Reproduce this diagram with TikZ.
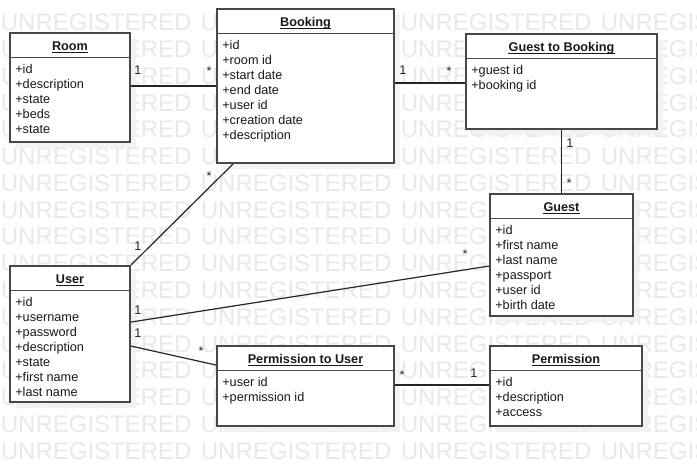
\documentclass[tikz,border=0pt]{standalone}
\usepackage{fontspec}
\setmainfont{Liberation Sans}
\usetikzlibrary{calc,fit}
\definecolor{wmgray}{RGB}{233,233,233}
\definecolor{shadowc}{RGB}{241,241,241}
\definecolor{boxline}{RGB}{72,72,72}
\tikzset{
  classbox/.style={draw=boxline, line width=1.4pt, fill=white, inner sep=0pt, rectangle},
  sepline/.style={draw=boxline, line width=1.4pt},
  titletext/.style={font=\fontsize{9.5}{11}\selectfont\bfseries, inner sep=0pt, text=black!90},
  attrtext/.style={font=\fontsize{9.5}{11}\selectfont, inner sep=0pt, text=black!90},
  assoc/.style={draw=black!85, line width=0.9pt},
  mult/.style={font=\fontsize{9.5}{11}\selectfont, inner sep=0pt, text=black!85},
  wmtext/.style={font=\fontsize{18}{20}\selectfont, text=wmgray, inner sep=0pt, anchor=base west},
}
\newcommand{\umlclass}[7]{%
  \fill[shadowc, opacity=0.85] (#2+6,#3+6) rectangle (#4+6,#5+6);
  \node[classbox, fit={(#2,#3) (#4,#5)}] (#1) {};
  \draw[sepline] ($(#1.north west)+(0,25.5)$) -- ($(#1.north east)+(0,25.5)$);
  \node[titletext, anchor=base] (#1-title) at ($(#1.north)+(0,18.5)$) {#6};
  \draw[line width=0.75pt, black!90] ($(#1-title.base west)+(0,1.6)$) -- ($(#1-title.base east)+(0,1.6)$);
  \foreach \a [count=\i] in {#7} {%
    \node[attrtext, anchor=base west] (#1-a\i) at ($(#1.north west)+(6,{41.5+(\i-1)*15})$) {+\a};
  }%
}
\begin{document}
\begin{tikzpicture}[x=0.75pt,y=-0.75pt]
\useasboundingbox (0,0) rectangle (697,466);
\fill[white] (0,0) rectangle (697,466);
\begin{scope}
\clip (0,0) rectangle (697,466);
\foreach \r in {0,...,16} {
  \foreach \c in {0,...,3} {
    \node[wmtext] (wm-\r-\c) at ({0.6+200*\c},{30.8+26.77*\r}) {UNREGISTERED};
  }
}
\end{scope}

\umlclass{room}{10}{33}{130}{142}{Room}{id,description,state,beds,state}
\umlclass{booking}{217}{9}{394}{163}{Booking}{id,room id,start date,end date,user id,creation date,description}
\umlclass{gtb}{466}{34}{657}{129}{Guest to Booking}{guest id,booking id}
\umlclass{guest}{490}{194}{633}{316}{Guest}{id,first name,last name,passport,user id,birth date}
\umlclass{user}{10}{266}{130}{402}{User}{id,username,password,description,state,first name,last name}
\umlclass{ptu}{217}{346}{394}{426}{Permission to User}{user id,permission id}
\umlclass{perm}{490}{346}{642}{426}{Permission}{id,description,access}

% associations
\draw[assoc] (room.east |- booking.west) -- (booking.west);
\draw[assoc] ($(booking.north east)+(0,75)$) -- ($(gtb.north west)+(0,50)$);
\draw[assoc] (gtb.south) -- (guest.north);
\draw[assoc] (user.north east) -- ($(booking.south west)+(17,0)$);
\draw[assoc] ($(user.north east)+(0,57)$) -- ($(guest.north west)+(0,73)$);
\draw[assoc] ($(user.north east)+(0,81)$) -- ($(ptu.north west)+(0,20)$);
\draw[assoc] ($(ptu.north east)+(0,40)$) -- ($(perm.north west)+(0,40)$);

% multiplicities
\node[mult] (m1) at (138,70) {1};
\node[mult] (m2) at (209,71) {*};
\node[mult] (m3) at (403,70) {1};
\node[mult] (m4) at (449,71) {*};
\node[mult] (m5) at (570,143) {1};
\node[mult] (m6) at (569,183) {*};
\node[mult] (m7) at (209,176) {*};
\node[mult] (m8) at (138,246) {1};
\node[mult] (m9) at (138,310) {1};
\node[mult] (m10) at (465,254) {*};
\node[mult] (m11) at (138,333) {1};
\node[mult] (m12) at (201,351) {*};
\node[mult] (m13) at (402,375) {*};
\node[mult] (m14) at (474,373) {1};
\end{tikzpicture}
\end{document}
